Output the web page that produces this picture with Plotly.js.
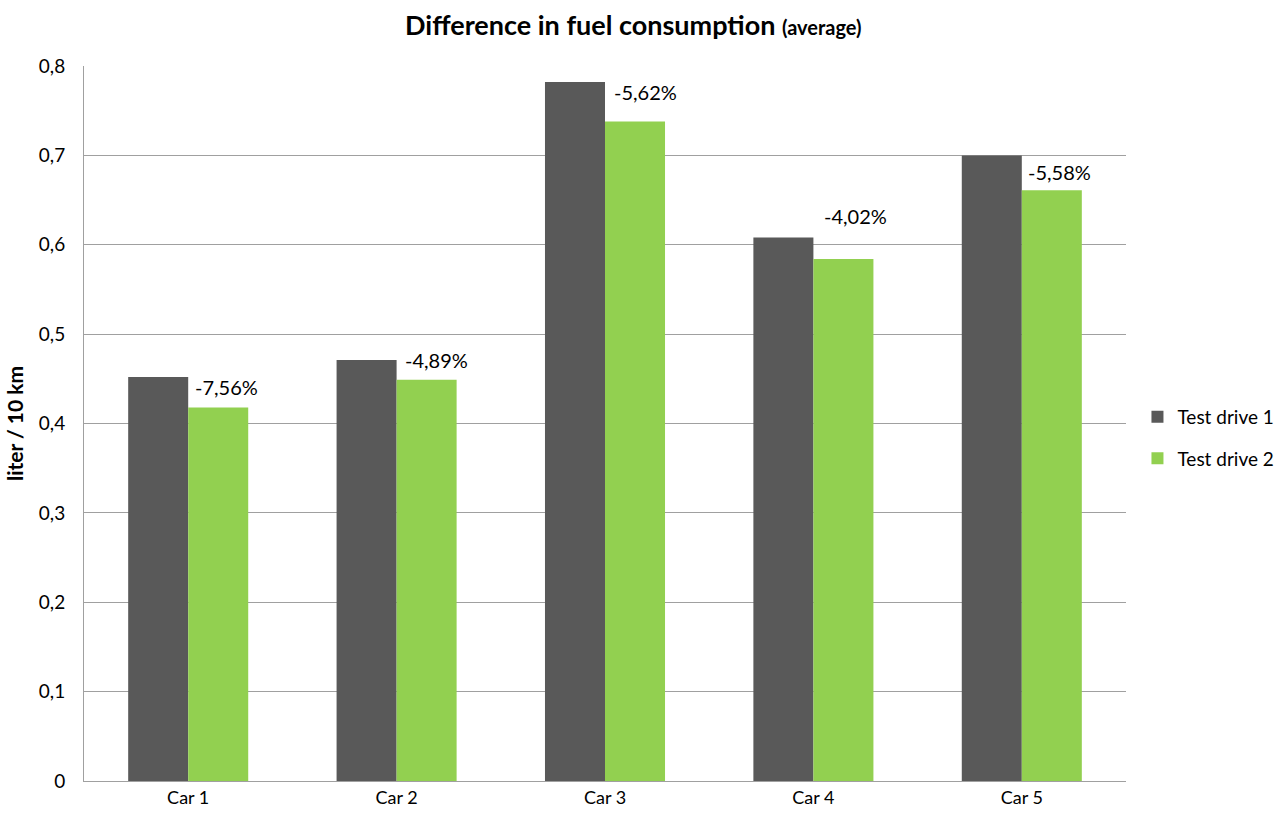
<!DOCTYPE html>
<html>
<head>
<meta charset="utf-8">
<script src="https://cdn.plot.ly/plotly-3.0.1.min.js"></script>
<style>html,body{margin:0;padding:0;background:#fff;}#chart{width:1282px;height:817px;}</style>
</head>
<body>
<div id="chart"></div>
<script>
const categories = ["Car 1", "Car 2", "Car 3", "Car 4", "Car 5"];
const testDrive1 = [0.452, 0.471, 0.782, 0.608, 0.700];
const testDrive2 = [0.418, 0.449, 0.738, 0.584, 0.661];
const diffLabels = ["-7,56%", "-4,89%", "-5,62%", "-4,02%", "-5,58%"];
const yTickVals = [0, 0.1, 0.2, 0.3, 0.4, 0.5, 0.6, 0.7, 0.8];
const yTickText = ["0", "0,1", "0,2", "0,3", "0,4", "0,5", "0,6", "0,7", "0,8"];

const font = "Lato, 'Open Sans', sans-serif";
const labelYShift = [20, 20, 29, 43, 18];
const labelXShift = [38, 40, 40, 42, 38];

const traces = [
  {type: "bar", name: "Test drive 1", legendgroup: "a", x: categories, y: testDrive1, marker: {color: "#595959"}, hoverinfo: "none"},
  {type: "bar", name: "Test drive 2", legendgroup: "b", x: categories, y: testDrive2, marker: {color: "#92d050"}, hoverinfo: "none"}
];

const annotations = categories.map((c, i) => ({
  x: c, y: testDrive2[i], xref: "x", yref: "y",
  text: diffLabels[i], showarrow: false,
  xshift: labelXShift[i], yshift: labelYShift[i],
  font: {family: font, size: 20, color: "#000"}
}));

const layout = {
  width: 1282, height: 817,
  margin: {l: 84, r: 156, t: 66, b: 36, autoexpand: false},
  paper_bgcolor: "#fff", plot_bgcolor: "#fff",
  font: {family: font, color: "#000"},
  title: {
    text: "<b>Difference in fuel consumption <span style='font-size:20px'>(average)</span></b>",
    x: 0.494, xref: "container", xanchor: "center",
    y: 0.969, yref: "container", yanchor: "middle",
    font: {family: font, size: 27, color: "#000"}
  },
  barmode: "group",
  bargap: 0.424,
  bargroupgap: 0,
  xaxis: {
    showline: true, linecolor: "#a0a0a0", linewidth: 1,
    showgrid: false,
    tickfont: {family: font, size: 18, color: "#000"},
    ticks: "", ticklen: 0
  },
  yaxis: {
    range: [0, 0.8],
    tickvals: yTickVals, ticktext: yTickText,
    showline: true, linecolor: "#a0a0a0", linewidth: 1,
    showgrid: true, gridcolor: "#a0a0a0", gridwidth: 1,
    zeroline: false,
    tickfont: {family: font, size: 19, color: "#000"},
    ticks: "", ticklen: 0,
    ticklabelstandoff: 14,
    title: {text: "<b>liter / 10 km</b>", font: {family: font, size: 21, color: "#000"}, standoff: 9}
  },
  legend: {
    x: 1.011, xanchor: "left", y: 0.480, yanchor: "middle",
    font: {family: font, size: 19, color: "#000"},
    traceorder: "grouped",
    tracegroupgap: 14,
    itemwidth: 30
  },
  annotations: annotations,
  showlegend: true
};

Plotly.newPlot("chart", traces, layout, {displayModeBar: false, staticPlot: true});
</script>
</body>
</html>
